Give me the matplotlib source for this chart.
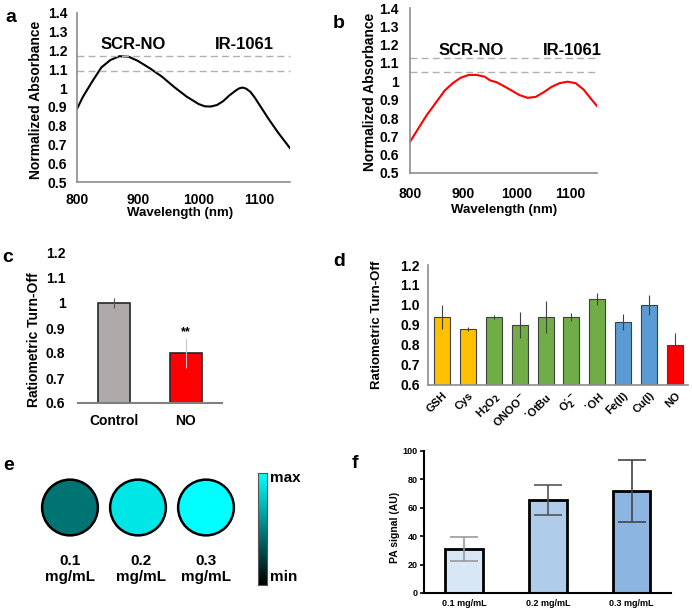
import numpy as np
import matplotlib
matplotlib.use("Agg")
import matplotlib.pyplot as plt
from matplotlib.colors import LinearSegmentedColormap
from matplotlib.patches import Circle

plt.rcParams['font.family'] = ['Liberation Sans', 'DejaVu Sans']
plt.rcParams['font.weight'] = 'bold'

# ---- data ----
wl_a = [800, 810, 825, 840, 855, 870, 885, 900, 920, 940, 960, 980, 1000, 1010, 1020,
        1030, 1040, 1050, 1060, 1066, 1072, 1078, 1085, 1092, 1100, 1115, 1130, 1150]
abs_a = [0.89, 0.955, 1.035, 1.11, 1.15, 1.17, 1.167, 1.145, 1.105, 1.06, 1.005, 0.955,
         0.915, 0.903, 0.902, 0.91, 0.93, 0.96, 0.985, 0.998, 1.003, 0.997, 0.98, 0.95,
         0.91, 0.835, 0.765, 0.68]
dash_a = [1.17, 1.09]

wl_b = [800, 815, 830, 850, 865, 880, 895, 910, 925, 940, 950, 962, 975, 990, 1005,
        1020, 1035, 1050, 1065, 1080, 1095, 1110, 1125, 1140, 1150]
abs_b = [0.67, 0.74, 0.81, 0.89, 0.95, 0.99, 1.02, 1.035, 1.035, 1.025, 1.005, 0.995,
         0.975, 0.95, 0.925, 0.91, 0.915, 0.94, 0.97, 0.99, 0.998, 0.99, 0.955, 0.90, 0.865]
dash_b = [1.13, 1.05]

c_labels = ['Control', 'NO']
c_vals = [1.0, 0.80]
c_err = [0.02, 0.06]

d_labels = ['GSH', 'Cys', 'H$_2$O$_2$', 'ONOO$^{-}$', '$^{\\bullet}$OtBu', 'O$_2^{\\bullet-}$',
            '$^{\\bullet}$OH', 'Fe(II)', 'Cu(I)', 'NO']
d_vals = [0.94, 0.88, 0.94, 0.90, 0.94, 0.94, 1.03, 0.915, 1.00, 0.80]
d_err = [0.06, 0.01, 0.01, 0.065, 0.08, 0.02, 0.03, 0.04, 0.05, 0.06]
d_colors = ['#FFC000', '#FFC000', '#70AD47', '#70AD47', '#70AD47', '#70AD47', '#70AD47',
            '#5B9BD5', '#5B9BD5', '#FF0000']

e_labels = ['0.1\nmg/mL', '0.2\nmg/mL', '0.3\nmg/mL']
e_intensity = [0.45, 0.9, 1.0]

f_labels = ['0.1 mg/mL', '0.2 mg/mL', '0.3 mg/mL']
f_vals = [31, 65.5, 72]
f_err = [8.5, 10.5, 22]
f_colors = ['#D8E7F5', '#AFCCEB', '#8DB5E2']
f_ecolors = ['#999999', '#555555', '#444444']

W, H = 692, 609
fig = plt.figure(figsize=(W / 100, H / 100), dpi=100)


def px_axes(l, t, r, b):
    return fig.add_axes([l / W, 1 - b / H, (r - l) / W, (b - t) / H])


def ftext(x, y, s, **kw):
    fig.text(x / W, 1 - y / H, s, **kw)


def spectrum(ax, wl, ab, color, dashes, lab_x, lab_y):
    ax.plot(wl, ab, color=color, lw=1.5)
    for yv in dashes:
        ax.plot([800, 1150], [yv, yv], color='#B0B0B0', lw=1.0, ls=(0, (5, 3)), clip_on=False)
    ax.set_xlim(800, 1150)
    ax.set_ylim(0.5, 1.4)
    ax.set_xticks([800, 900, 1000, 1100])
    ax.set_yticks(np.arange(0.5, 1.41, 0.1))
    ax.set_yticklabels(['0.5', '0.6', '0.7', '0.8', '0.9', '1', '1.1', '1.2', '1.3', '1.4'])
    for s in ['top', 'right']:
        ax.spines[s].set_visible(False)
    for s in ['left', 'bottom']:
        ax.spines[s].set_color('#8C8C8C')
        ax.spines[s].set_linewidth(1.2)
    ax.tick_params(length=0, labelsize=10)
    ax.text(lab_x[0], lab_y, 'SCR-NO', fontsize=12, fontweight='bold', ha='center', va='center')
    ax.text(lab_x[1], lab_y, 'IR-1061', fontsize=12, fontweight='bold', ha='center', va='center')


# ---- a ----
ax_a = px_axes(77, 13, 290, 182)
spectrum(ax_a, wl_a, abs_a, 'black', dash_a, [892, 1075], 1.23)
ax_a.tick_params(axis='y', pad=7)
ax_a.tick_params(axis='x', pad=8)
ftext(36, 100, 'Normalized Absorbance', rotation=90, fontsize=10, ha='center', va='center')
ftext(180, 213, 'Wavelength (nm)', fontsize=9.5, ha='center', va='center')

# ---- b ----
ax_b = px_axes(410, 8, 597, 173)
spectrum(ax_b, wl_b, abs_b, '#FF0000', dash_b, [914, 1103], 1.17)
ax_b.tick_params(axis='y', pad=8)
ax_b.tick_params(axis='x', pad=10)
ftext(370, 92, 'Normalized Absorbance', rotation=90, fontsize=10, ha='center', va='center')
ftext(504, 210, 'Wavelength (nm)', fontsize=9.5, ha='center', va='center')

# ---- c ----
ax_c = px_axes(78, 253, 222, 403)
xc = np.arange(len(c_vals))
ax_c.bar(xc, np.array(c_vals) - 0.6, bottom=0.6, width=0.44,
         color=['#AEAAAA', '#FF0000'], edgecolor='#262626', lw=1.2)
ax_c.errorbar(xc[:1], c_vals[:1], yerr=c_err[:1], fmt='none', ecolor='#555555', elinewidth=0.8)
ax_c.errorbar(xc[1:], c_vals[1:], yerr=c_err[1:], fmt='none', ecolor='#C8C8C8', elinewidth=0.8)
ax_c.text(1, 0.885, '**', ha='center', va='center', fontsize=9)
ax_c.set_xlim(-0.5, 1.5)
ax_c.set_ylim(0.6, 1.2)
ax_c.set_xticks(xc)
ax_c.set_xticklabels(c_labels)
ax_c.set_yticks(np.arange(0.6, 1.21, 0.1))
ax_c.set_yticklabels(['0.6', '0.7', '0.8', '0.9', '1', '1.1', '1.2'])
for s in ['top', 'right', 'left']:
    ax_c.spines[s].set_visible(False)
ax_c.spines['bottom'].set_color('#7F7F7F')
ax_c.spines['bottom'].set_linewidth(1.5)
ax_c.tick_params(length=0, labelsize=10)
ax_c.tick_params(axis='y', pad=9)
ax_c.tick_params(axis='x', pad=8)
ftext(34, 340, 'Ratiometric Turn-Off', rotation=90, fontsize=10, ha='center', va='center')

# ---- d ----
ax_d = px_axes(428, 265, 688, 385)
xd = np.arange(len(d_vals))
ax_d.bar(xd, np.array(d_vals) - 0.6, bottom=0.6, width=0.62, color=d_colors,
         edgecolor='#404040', lw=0.8)
ax_d.errorbar(xd, d_vals, yerr=d_err, fmt='none', ecolor='#404040', elinewidth=0.8)
ax_d.set_xlim(-0.54, 9.5)
ax_d.set_ylim(0.6, 1.2)
ax_d.set_yticks(np.arange(0.6, 1.21, 0.1))
ax_d.set_yticklabels([f'{v:.1f}' for v in np.arange(0.6, 1.21, 0.1)])
ax_d.set_xticks(xd)
ax_d.set_xticklabels(d_labels, rotation=45, ha='right', va='top', rotation_mode='anchor', fontsize=8)
for s in ['top', 'right']:
    ax_d.spines[s].set_visible(False)
for s in ['left', 'bottom']:
    ax_d.spines[s].set_color('#8C8C8C')
    ax_d.spines[s].set_linewidth(1.2)
ax_d.tick_params(length=0)
ax_d.tick_params(axis='y', labelsize=10, pad=6)
ax_d.tick_params(axis='x', pad=4)
ftext(377, 325, 'Ratiometric Turn-Off', rotation=90, fontsize=9.5, ha='center', va='center')

# ---- e ----
cmap = LinearSegmentedColormap.from_list('pa', ['#000000', '#008080', '#00FFFF'])
ax_e = px_axes(30, 470, 245, 545)
ax_e.set_xlim(-40 / 68, 175 / 68)
ax_e.set_ylim(-37.5 / 68, 37.5 / 68)
ax_e.axis('off')
for i, (val, lab) in enumerate(zip(e_intensity, e_labels)):
    ax_e.add_patch(Circle((i, 0), 0.41, facecolor=cmap(val), edgecolor='black', lw=1.8))
    ax_e.text(i + (0.04 if i == 1 else 0), -0.9, lab, ha='center', va='center', fontsize=11,
              linespacing=1.15, clip_on=False)

ax_cb = px_axes(258, 473, 267, 585)
ax_cb.imshow(np.linspace(1, 0, 100).reshape(-1, 1), cmap=cmap, aspect='auto')
ax_cb.set_xticks([])
ax_cb.set_yticks([])
for s in ax_cb.spines.values():
    s.set_color('#555555')
    s.set_linewidth(0.8)
ftext(270, 478, 'max', fontsize=11, va='center')
ftext(270, 577, 'min', fontsize=11, va='center')

# ---- f ----
ax_f = px_axes(424, 451, 671, 593)
xf = np.arange(len(f_vals))
ax_f.bar(xf, f_vals, width=0.45, color=f_colors, edgecolor='black', lw=2)
for i in range(len(f_vals)):
    ax_f.errorbar(xf[i], f_vals[i], yerr=f_err[i], fmt='none', ecolor=f_ecolors[i],
                  elinewidth=1.2, capsize=10, capthick=1.2)
ax_f.set_xlim(-0.48, 2.47)
ax_f.set_ylim(0, 100)
ax_f.set_yticks(range(0, 101, 20))
ax_f.set_xticks(xf)
ax_f.set_xticklabels(f_labels)
for s in ['top', 'right']:
    ax_f.spines[s].set_visible(False)
for s in ['left', 'bottom']:
    ax_f.spines[s].set_linewidth(1.5)
ax_f.tick_params(axis='y', length=3, width=1.2, labelsize=6.5, pad=1.5)
ax_f.tick_params(axis='x', length=0, labelsize=6.5, pad=4)
ftext(395, 527, 'PA signal (AU)', rotation=90, fontsize=7.5, ha='center', va='center')

# ---- panel letters ----
for lab, x, y in [('a', 11, 18), ('b', 339, 23), ('c', 8, 258), ('d', 339, 261),
                  ('e', 9, 465), ('f', 355, 463)]:
    ftext(x, y, lab, fontsize=14, ha='center', va='center')

fig.savefig('out.png', dpi=100)
